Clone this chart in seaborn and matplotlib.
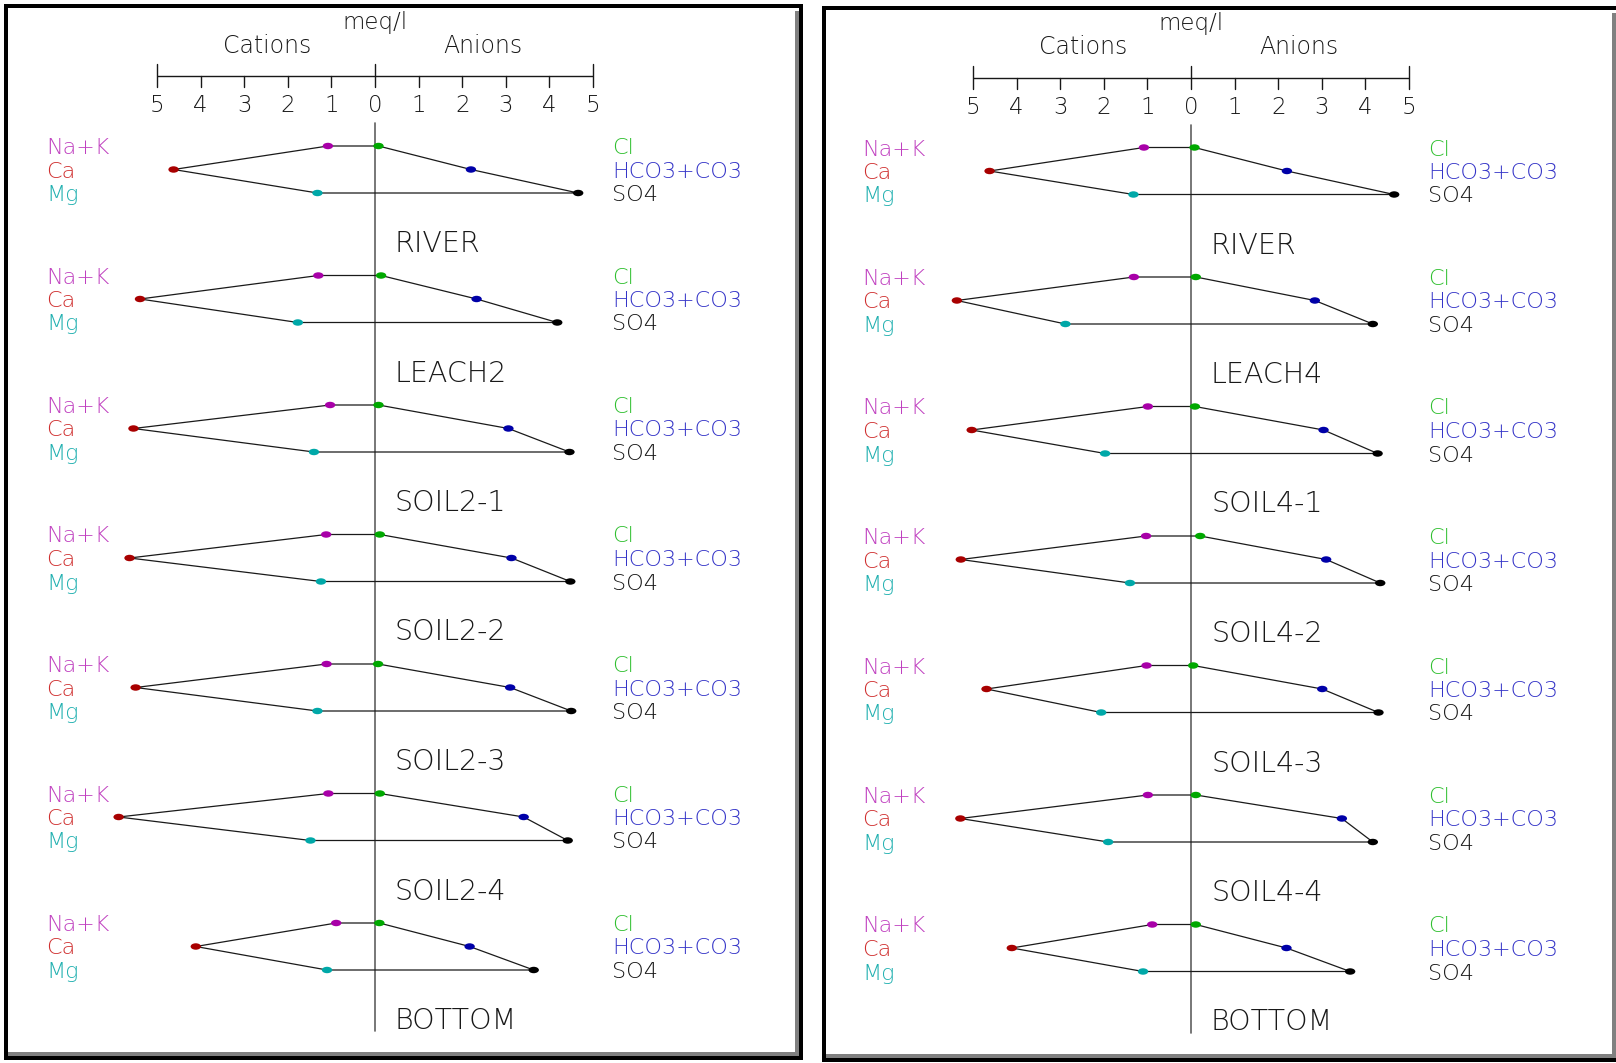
import numpy as np
import pandas as pd
import matplotlib
matplotlib.use("Agg")
import matplotlib.pyplot as plt
from matplotlib.patches import Rectangle
from matplotlib.path import Path
from matplotlib.markers import MarkerStyle
from matplotlib.transforms import Affine2D
import seaborn as sns

# ---------------------------------------------------------------- data (meq/l)
cation_names = ["Na+K", "Ca", "Mg"]
anion_names = ["Cl", "HCO3+CO3", "SO4"]

samples_2 = ["RIVER", "LEACH2", "SOIL2-1", "SOIL2-2", "SOIL2-3", "SOIL2-4", "BOTTOM"]
nak_2 = [1.08, 1.30, 1.03, 1.12, 1.11, 1.07, 0.89]
ca_2 = [4.62, 5.39, 5.54, 5.63, 5.49, 5.88, 4.11]
mg_2 = [1.32, 1.77, 1.40, 1.24, 1.32, 1.48, 1.10]
cl_2 = [0.08, 0.14, 0.08, 0.11, 0.07, 0.11, 0.10]
hco3_2 = [2.20, 2.33, 3.06, 3.13, 3.10, 3.41, 2.17]
so4_2 = [4.66, 4.18, 4.46, 4.48, 4.50, 4.42, 3.64]

samples_4 = ["RIVER", "LEACH4", "SOIL4-1", "SOIL4-2", "SOIL4-3", "SOIL4-4", "BOTTOM"]
nak_4 = [1.08, 1.31, 0.99, 1.03, 1.02, 0.99, 0.89]
ca_4 = [4.62, 5.37, 5.03, 5.28, 4.69, 5.29, 4.11]
mg_4 = [1.32, 2.88, 1.97, 1.40, 2.06, 1.90, 1.10]
cl_4 = [0.08, 0.11, 0.09, 0.21, 0.05, 0.11, 0.11]
hco3_4 = [2.20, 2.84, 3.04, 3.10, 3.01, 3.46, 2.19]
so4_4 = [4.66, 4.17, 4.28, 4.34, 4.30, 4.17, 3.65]

scale_ticks = [-5, -4, -3, -2, -1, 0, 1, 2, 3, 4, 5]
scale_tick_labels = ["5", "4", "3", "2", "1", "0", "1", "2", "3", "4", "5"]

# ---------------------------------------------------------------- styling
marker_colors = {"Na+K": "#A800A8", "Ca": "#A80000", "Mg": "#00A8A8",
                 "Cl": "#00A800", "HCO3+CO3": "#0000A8", "SO4": "#000000"}
text_colors = {"Na+K": "#C040C0", "Ca": "#D03030", "Mg": "#20B0B0",
               "Cl": "#30C030", "HCO3+CO3": "#3535C8", "SO4": "#181818"}
INK = "#181818"

W, H = 1616, 1063
PX = 43.6            # pixels per meq/l
ROW_PERIOD = 129.5   # vertical spacing of diagrams (px)
ROW_STEP = 23.5      # spacing of the three ion rows within a diagram (px)

sns.set_theme(style="white")
plt.rcParams["font.family"] = ["DejaVu Sans"]

fig = plt.figure(figsize=(W / 100, H / 100), dpi=100)
fig.patch.set_facecolor("white")

ellipse = MarkerStyle(Affine2D().scale(1.0, 0.62).transform_path(Path.unit_circle()))


def build_frames(samples, nak, ca, mg, cl, hco3, so4, top):
    rows, pts = [], []
    for i, name in enumerate(samples):
        y0 = top + i * ROW_PERIOD
        y1, y2 = y0 + ROW_STEP, y0 + 2 * ROW_STEP
        verts = [(-nak[i], y0), (cl[i], y0), (hco3[i], y1), (so4[i], y2),
                 (-mg[i], y2), (-ca[i], y1), (-nak[i], y0)]
        for k, (x, y) in enumerate(verts):
            rows.append({"sample": name, "order": k, "meq": x, "y": y})
        for ion, x, y in [("Na+K", -nak[i], y0), ("Ca", -ca[i], y1), ("Mg", -mg[i], y2),
                          ("Cl", cl[i], y0), ("HCO3+CO3", hco3[i], y1), ("SO4", so4[i], y2)]:
            pts.append({"sample": name, "ion": ion, "meq": x, "y": y})
    return pd.DataFrame(rows), pd.DataFrame(pts)


def draw_panel(x_left, x_right, center, dy, samples, values):
    ax = fig.add_axes([x_left / W, 0, (x_right - x_left) / W, 1])
    ax.set_xlim((x_left - center) / PX, (x_right - center) / PX)
    ax.set_ylim(H, 0)
    ax.axis("off")
    ax.patch.set_alpha(0)

    def off(px):
        return px / PX

    # meq/l scale bar
    yb = 76 + dy
    ax.plot([-5, 5], [yb, yb], color=INK, lw=1.0, solid_capstyle="butt")
    for t, lab in zip(scale_ticks, scale_tick_labels):
        top = yb - 12 if t in (-5, 0, 5) else yb
        ax.plot([t, t], [top, yb + 11], color=INK, lw=1.0)
        ax.text(t, 112 + dy, lab, ha="center", va="baseline", fontsize=16.5,
                color=INK, fontweight="light")
    ax.text(0, 28.5 + dy, "meq/l", ha="center", va="baseline", fontsize=16.5,
            color=INK, fontweight="light")
    ax.text(off(-108), 53 + dy, "Cations", ha="center", va="baseline", fontsize=17,
            color=INK, fontweight="light")
    ax.text(off(108), 53 + dy, "Anions", ha="center", va="baseline", fontsize=17,
            color=INK, fontweight="light")

    # zero line
    ax.plot([0, 0], [123 + dy, 1031 + dy], color="#606060", lw=1.2, zorder=1)

    top = 146 + dy
    poly, pts = build_frames(samples, *values, top=top)
    sns.lineplot(data=poly, x="meq", y="y", units="sample", estimator=None, sort=False,
                 color="#1a1a1a", lw=0.9, ax=ax, zorder=2, legend=False)
    sns.scatterplot(data=pts, x="meq", y="y", hue="ion", palette=marker_colors,
                    marker=ellipse, s=56, linewidth=0, edgecolor="none",
                    legend=False, ax=ax, zorder=3)
    ax.set_xlabel("")
    ax.set_ylabel("")
    ax.set_xlim((x_left - center) / PX, (x_right - center) / PX)
    ax.set_ylim(H, 0)

    for i, name in enumerate(samples):
        y0 = top + i * ROW_PERIOD
        for k, ion in enumerate(cation_names):
            ax.text(off(-329), y0 + k * ROW_STEP + 8, ion, ha="left", va="baseline",
                    fontsize=16, color=text_colors[ion], fontweight="light")
        for k, ion in enumerate(anion_names):
            ax.text(off(237), y0 + k * ROW_STEP + 8, ion, ha="left", va="baseline",
                    fontsize=16, color=text_colors[ion], fontweight="light")
        ax.text(off(20), y0 + 106, name, ha="left", va="baseline", fontsize=20.5,
                color=INK, fontweight="light")
    return ax


draw_panel(0, 810, 375, 0.0, samples_2, (nak_2, ca_2, mg_2, cl_2, hco3_2, so4_2))
draw_panel(810, 1616, 1191, 1.5, samples_4, (nak_4, ca_4, mg_4, cl_4, hco3_4, so4_4))


# panel frames: black border with grey shading inside the right and bottom edges
def box(x0, y0, x1, y1, color):
    fig.add_artist(Rectangle((x0 / W, 1 - y1 / H), (x1 - x0) / W, (y1 - y0) / H,
                             transform=fig.transFigure, facecolor=color,
                             edgecolor="none", zorder=10))


def frame(x0, y0, x1, y1, t=3.6, g=4.0):
    box(x0, y0, x1, y0 + t, "black")
    box(x0, y0, x0 + t, y1, "black")
    box(x1 - t, y0, x1, y1, "black")
    box(x0, y1 - t, x1, y1, "black")
    box(x1 - t - g, y0 + 2 * t, x1 - t, y1 - t, "#808080")
    box(x0 + t, y1 - t - g, x1 - t, y1 - t, "#808080")


frame(4, 4, 803, 1060)
frame(822, 6, 1619.6, 1062)

fig.savefig("out.png", dpi=100, facecolor="white")
